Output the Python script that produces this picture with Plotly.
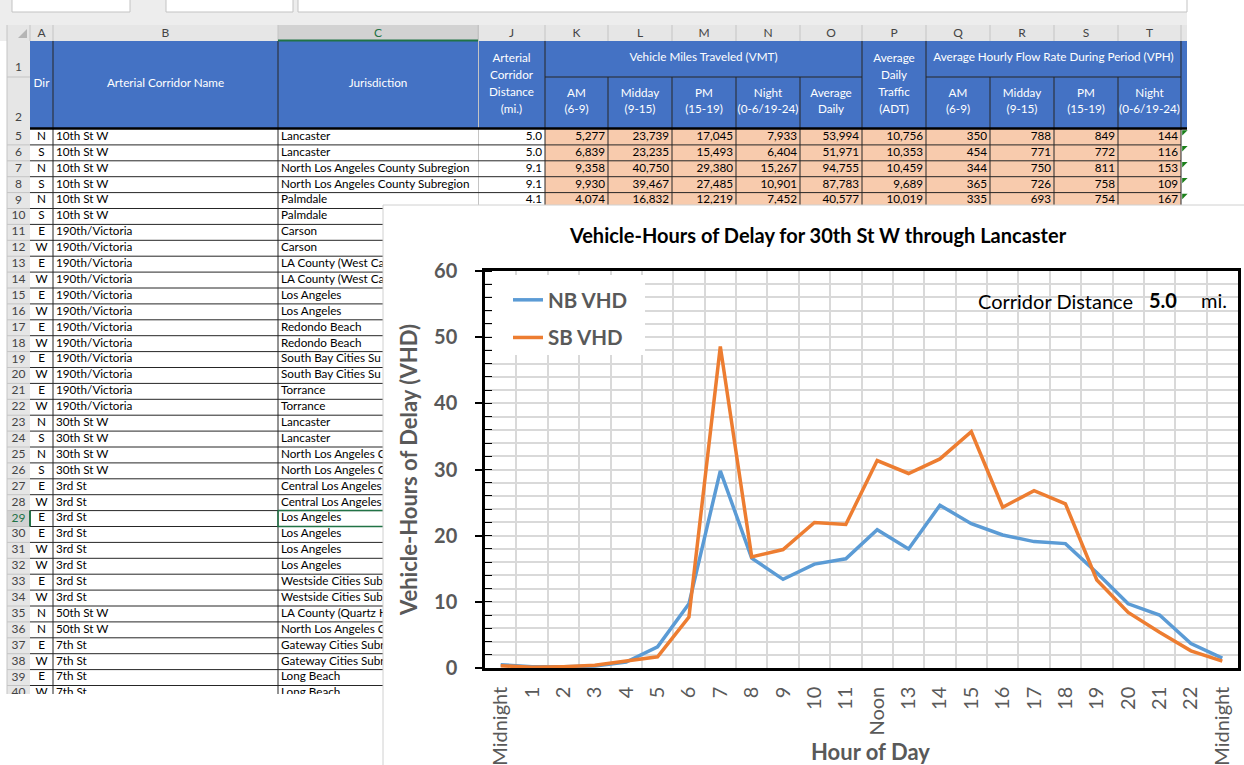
import plotly.graph_objects as go

W, H = 1244, 765
FONT = "Lato"

# ---------------- chart data ----------------
chart_title = "Vehicle-Hours of Delay for 30th St W through Lancaster"
hour_labels = ["Midnight", "1", "2", "3", "4", "5", "6", "7", "8", "9", "10", "11",
               "Noon", "13", "14", "15", "16", "17", "18", "19", "20", "21", "22", "Midnight"]
nb_vhd = [0.5, 0.2, 0.2, 0.3, 0.9, 3.2, 9.7, 29.8, 16.6, 13.4, 15.7, 16.5,
          20.9, 18.0, 24.6, 21.8, 20.1, 19.1, 18.8, 14.4, 9.7, 8.0, 3.7, 1.5]
sb_vhd = [0.35, 0.1, 0.2, 0.4, 1.05, 1.7, 7.7, 48.6, 16.8, 17.9, 22.0, 21.7,
          31.35, 29.4, 31.6, 35.7, 24.3, 26.8, 24.8, 13.3, 8.4, 5.4, 2.6, 1.05]
corridor_distance_mi = 5.0

# ---------------- spreadsheet data ----------------
col_letters = ["A", "B", "C", "J", "K", "L", "M", "N", "O", "P", "Q", "R", "S", "T"]
row_numbers = list(range(5, 41))
dirs = ["N", "S", "N", "S", "N", "S", "E", "W", "E", "W", "E", "W", "E", "W", "E", "W", "E", "W",
        "N", "S", "N", "S", "E", "W", "E", "E", "W", "W", "E", "W", "N", "N", "E", "W", "E", "W"]
corridor_names = (["10th St W"] * 6 + ["190th/Victoria"] * 12 + ["30th St W"] * 4 +
                  ["3rd St"] * 8 + ["50th St W"] * 2 + ["7th St"] * 4)
jurisdictions = [
    "Lancaster", "Lancaster",
    "North Los Angeles County Subregion", "North Los Angeles County Subregion",
    "Palmdale", "Palmdale", "Carson", "Carson",
    "LA County (West Carson)", "LA County (West Carson)",
    "Los Angeles", "Los Angeles", "Redondo Beach", "Redondo Beach",
    "South Bay Cities Subregion", "South Bay Cities Subregion", "Torrance", "Torrance",
    "Lancaster", "Lancaster",
    "North Los Angeles County Subregion", "North Los Angeles County Subregion",
    "Central Los Angeles Subregion", "Central Los Angeles Subregion",
    "Los Angeles", "Los Angeles", "Los Angeles", "Los Angeles",
    "Westside Cities Subregion", "Westside Cities Subregion",
    "LA County (Quartz Hill)", "North Los Angeles County Subregion",
    "Gateway Cities Subregion", "Gateway Cities Subregion", "Long Beach", "Long Beach"]
distance_mi = [5.0, 5.0, 9.1, 9.1, 4.1]
vmt_am = [5277, 6839, 9358, 9930, 4074]
vmt_midday = [23739, 23235, 40750, 39467, 16832]
vmt_pm = [17045, 15493, 29380, 27485, 12219]
vmt_night = [7933, 6404, 15267, 10901, 7452]
vmt_daily = [53994, 51971, 94755, 87783, 40577]
adt = [10756, 10353, 10459, 9689, 10019]
vph_am = [350, 454, 344, 365, 335]
vph_midday = [788, 771, 750, 726, 693]
vph_pm = [849, 772, 811, 758, 754]
vph_night = [144, 116, 153, 109, 167]

hdr_single = ["Dir", "Arterial Corridor Name", "Jurisdiction"]
hdr_J = ["Arterial", "Corridor", "Distance", "(mi.)"]
hdr_P = ["Average", "Daily", "Traffic", "(ADT)"]
vmt_group = "Vehicle Miles Traveled (VMT)"
vph_group = "Average Hourly Flow Rate During Period (VPH)"
vmt_sub = [["AM", "(6-9)"], ["Midday", "(9-15)"], ["PM", "(15-19)"],
           ["Night", "(0-6/19-24)"], ["Average", "Daily"]]
vph_sub = [["AM", "(6-9)"], ["Midday", "(9-15)"], ["PM", "(15-19)"], ["Night", "(0-6/19-24)"]]

# ---------------- sheet geometry (style) ----------------
col_edges = [30, 53, 278, 478, 545, 608, 672, 736, 800, 862, 926, 990, 1054, 1118, 1181]
SHEET_R = 1187
HDR_TOP, HDR_MID, HDR_BOT = 41, 77, 128
DATA_TOP, ROW_H = 129, 15.9
SHEET_B = 694
PANEL_X, PANEL_Y = 383, 205
GREEN = "#217346"
CELL_FS = 11.7


def row_top(i):
    return DATA_TOP + i * ROW_H


def row_mid(i):
    return DATA_TOP + (i + 0.5) * ROW_H


def col_mid(j):
    return (col_edges[j] + col_edges[j + 1]) / 2


shapes = []


def rect(x0, y0, x1, y1, fill, line=None, lw=0):
    shapes.append(dict(type="rect", xref="x", yref="y", x0=x0, y0=y0, x1=x1, y1=y1,
                       fillcolor=fill, line=dict(width=lw, color=line or fill), layer="below"))


rect(0, 0, SHEET_R, HDR_TOP, "#ededed")
rect(12, -5, 130, 12, "white", "#c3c3c3", 1)
rect(166, -5, 293, 12, "white", "#c3c3c3", 1)
rect(298, -5, SHEET_R, 12, "white", "#c3c3c3", 1)
rect(7, 25, SHEET_R, HDR_TOP, "#e6e6e6")
rect(278, 25, 478, HDR_TOP, "#d2d2d2")
rect(7, HDR_TOP, 30, SHEET_B, "#e6e6e6")
rect(7, row_top(24), 30, row_top(25), "#d2d2d2")
rect(30, HDR_TOP, SHEET_R, HDR_BOT, "#4472C4")
rect(545, DATA_TOP, 1181, SHEET_B, "#F8CBAD")
shapes.append(dict(type="path", xref="x", yref="y", path="M 27 29 L 27 38 L 18 38 Z",
                   fillcolor="#b5b5b5", line=dict(width=0), layer="below"))


def new_lines():
    return {"x": [], "y": []}


def seg(store, x0, y0, x1, y1):
    store["x"] += [x0, x1, None]
    store["y"] += [y0, y1, None]


gray = new_lines()
black = new_lines()
for x in col_edges:
    seg(gray, x, 25, x, HDR_TOP)
seg(gray, 7, 25, 7, SHEET_B)
seg(gray, 7, HDR_MID, 30, HDR_MID)
for i in range(1, len(row_numbers)):
    seg(gray, 7, row_top(i), 30, row_top(i))
seg(gray, 478.5, 25, 478.5, SHEET_B)

for i in range(1, len(row_numbers)):
    seg(black, 30, row_top(i), 1181, row_top(i))
for x in [53, 278] + col_edges[4:]:
    seg(black, x, HDR_BOT, x, SHEET_B)
for x in [53, 278, 545, 862, 926, 1181]:
    seg(black, x, HDR_TOP, x, HDR_BOT)
for x in [608, 672, 736, 800, 990, 1054, 1118]:
    seg(black, x, HDR_MID, x, HDR_BOT)
seg(black, 545, HDR_MID, 862, HDR_MID)
seg(black, 926, HDR_MID, 1181, HDR_MID)

texts = {}


def put(x, y, s, pos="middle center", color="#000000", size=CELL_FS, bold=False):
    key = (pos, color, size, bold)
    d = texts.setdefault(key, ([], [], []))
    d[0].append(x)
    d[1].append(y)
    d[2].append(s)


# column letters
for j, c in enumerate(col_letters):
    put(col_mid(j), 33.5, c, color=GREEN if c == "C" else "#444444", size=12)
put(18.5, 68, "1", color="#444444", size=12)
put(18.5, 118, "2", color="#444444", size=12)
WHITE = "#ffffff"
for j, s in enumerate(hdr_single):
    put(col_mid(j), 84.5, s, color=WHITE)
for k, s in enumerate(hdr_J):
    put(col_mid(3), 59 + 17 * k, s, color=WHITE)
for k, s in enumerate(hdr_P):
    put(col_mid(9), 59 + 17 * k, s, color=WHITE)
put((545 + 862) / 2, 58.5, vmt_group, color=WHITE)
put((926 + 1181) / 2, 58.5, vph_group, color=WHITE)
for j, lines in enumerate(vmt_sub):
    for k, s in enumerate(lines):
        put(col_mid(4 + j), 94 + 16.5 * k, s, color=WHITE)
for j, lines in enumerate(vph_sub):
    for k, s in enumerate(lines):
        put(col_mid(10 + j), 94 + 16.5 * k, s, color=WHITE)

# data rows; text running under the chart panel is shortened (the panel hides the rest)
VISIBLE_CHARS = 19
for i, rn in enumerate(row_numbers):
    y = row_mid(i)
    put(18.5, y, str(rn), color=GREEN if rn == 29 else "#444444", size=12)
    put(col_mid(0), y, dirs[i])
    put(56, y, corridor_names[i], pos="middle right")
    jur = jurisdictions[i]
    if row_top(i + 1) > PANEL_Y and len(jur) > VISIBLE_CHARS:
        jur = jur[:VISIBLE_CHARS]
    put(281, y, jur, pos="middle right")

numeric_cols = [vmt_am, vmt_midday, vmt_pm, vmt_night, vmt_daily, adt,
                vph_am, vph_midday, vph_pm, vph_night]
for i in range(len(distance_mi)):
    y = row_mid(i)
    put(col_edges[4] - 3, y, f"{distance_mi[i]:.1f}", pos="middle left")
    for j, arr in enumerate(numeric_cols):
        put(col_edges[5 + j] - 3, y, f"{arr[i]:,}", pos="middle left")

fig = go.Figure()
fig.add_trace(go.Scatter(x=gray["x"], y=gray["y"], mode="lines",
                         line=dict(color="#c4c4c4", width=1), hoverinfo="skip", showlegend=False))
fig.add_trace(go.Scatter(x=black["x"], y=black["y"], mode="lines",
                         line=dict(color="#262626", width=1), hoverinfo="skip", showlegend=False))
fig.add_trace(go.Scatter(x=[30, SHEET_R], y=[HDR_BOT + 0.5, HDR_BOT + 0.5], mode="lines",
                         line=dict(color="#000000", width=2.5), hoverinfo="skip", showlegend=False))
fig.add_trace(go.Scatter(x=[278, 478, None, 30, 30],
                         y=[40.5, 40.5, None, row_top(24), row_top(25)], mode="lines",
                         line=dict(color=GREEN, width=2), hoverinfo="skip", showlegend=False))
fig.add_trace(go.Scatter(x=[278, 478, 478, 278, 278],
                         y=[row_top(24), row_top(24), row_top(25), row_top(25), row_top(24)],
                         mode="lines", line=dict(color=GREEN, width=1.5),
                         hoverinfo="skip", showlegend=False))
for (pos, color, size, bold), (xs, ys, ss) in texts.items():
    fig.add_trace(go.Scatter(x=xs, y=ys, text=ss, mode="text", textposition=pos,
                             textfont=dict(family=FONT, size=size, color=color,
                                           weight="bold" if bold else "normal"),
                             hoverinfo="skip", showlegend=False))
fig.add_trace(go.Scatter(x=[1184] * len(distance_mi),
                         y=[row_top(i) + 3 for i in range(len(distance_mi))],
                         mode="markers", marker=dict(symbol="triangle-nw", size=6, color="#1a7f1a"),
                         hoverinfo="skip", showlegend=False))
# blank page below the visible sheet rows
fig.add_trace(go.Scatter(x=[-2, PANEL_X, PANEL_X, -2, -2], y=[SHEET_B, SHEET_B, H + 2, H + 2, SHEET_B],
                         mode="lines", fill="toself", fillcolor="white", line=dict(width=0),
                         hoverinfo="skip", showlegend=False))
# chart panel sitting over the sheet
fig.add_trace(go.Scatter(x=[PANEL_X, W + 2, W + 2, PANEL_X, PANEL_X],
                         y=[PANEL_Y, PANEL_Y, H + 2, H + 2, PANEL_Y],
                         mode="lines", fill="toself", fillcolor="white",
                         line=dict(color="#d0d0d0", width=1), hoverinfo="skip", showlegend=False))

# ---------------- chart traces ----------------
hours = list(range(len(hour_labels)))
fig.add_trace(go.Scatter(x=hours, y=nb_vhd, name="NB VHD", mode="lines", legendgroup="nb",
                         line=dict(color="#5B9BD5", width=3.5), xaxis="x2", yaxis="y2"))
fig.add_trace(go.Scatter(x=hours, y=sb_vhd, name="SB VHD", mode="lines", legendgroup="sb",
                         line=dict(color="#ED7D31", width=3.5), xaxis="x2", yaxis="y2"))

GRID = "#d9d9d9"
AX = "#595959"


def px(x):
    return x / W


def py(y):
    return 1 - y / H


shapes.append(dict(type="rect", xref="paper", yref="paper", x0=px(492), x1=px(645),
                   y0=py(355), y1=py(275), fillcolor="white", line=dict(width=0), layer="above"))

fig.update_layout(
    width=W, height=H,
    margin=dict(l=0, r=0, t=0, b=0, pad=0, autoexpand=False),
    paper_bgcolor="white", plot_bgcolor="white",
    hovermode=False,
    shapes=shapes,
    title=dict(text=chart_title, x=px(818), xanchor="center", y=py(236), yanchor="middle",
               font=dict(family=FONT, size=20, color="#000000", weight="bold")),
    xaxis=dict(domain=[0, 1], range=[0, W], visible=False, fixedrange=True),
    yaxis=dict(domain=[0, 1], range=[H, 0], visible=False, fixedrange=True),
    xaxis2=dict(domain=[px(485), px(1238)], anchor="y2", range=[-0.5, 23.5],
                tickmode="array", tickvals=hours, ticktext=hour_labels, tickangle=-90,
                tickfont=dict(family=FONT, size=20, color=AX), ticks="", showgrid=False,
                zeroline=False, showline=True, linecolor="#000000", linewidth=2.5, mirror=True,
                ticklabelstandoff=8,
                minor=dict(tickmode="array", tickvals=[h + 0.5 for h in hours[:-1]],
                           showgrid=True, gridcolor=GRID, gridwidth=1.5, ticks="")),
    yaxis2=dict(domain=[py(668), py(271)], anchor="x2", range=[0, 60], tick0=0, dtick=10,
                ticks="outside", ticklen=7, tickwidth=1.5, tickcolor="#000000",
                tickfont=dict(family=FONT, size=20, color=AX, weight="bold"),
                showgrid=True, gridcolor=GRID, gridwidth=1.5, zeroline=False,
                showline=True, linecolor="#000000", linewidth=2.5, mirror=True,
                ticklabelstandoff=14,
                minor=dict(dtick=2, ticks="inside", ticklen=7, tickwidth=1.2, tickcolor="#000000",
                           showgrid=True, gridcolor=GRID, gridwidth=1.5),
                title=dict(text="Vehicle-Hours of Delay (VHD)", standoff=11,
                           font=dict(family=FONT, size=22, color=AX, weight="bold"))),
    legend=dict(x=px(508), y=py(280), xanchor="left", yanchor="top", bgcolor="rgba(0,0,0,0)",
                font=dict(family=FONT, size=20.5, color=AX, weight="bold"),
                tracegroupgap=8, traceorder="grouped"),
    annotations=[
        dict(text="Hour of Day", xref="paper", yref="paper", x=px(870), y=py(751),
             xanchor="center", yanchor="middle", showarrow=False,
             font=dict(family=FONT, size=22, color=AX, weight="bold")),
        dict(text="Corridor Distance", xref="paper", yref="paper", x=px(1135), y=py(301),
             xanchor="right", yanchor="middle", showarrow=False,
             font=dict(family=FONT, size=20, color="#000000")),
        dict(text=f"{corridor_distance_mi:.1f}", xref="paper", yref="paper", x=px(1162.5),
             y=py(300), xanchor="center", yanchor="middle", showarrow=False,
             font=dict(family=FONT, size=20, color="#000000", weight="bold")),
        dict(text="mi.", xref="paper", yref="paper", x=px(1199), y=py(300),
             xanchor="left", yanchor="middle", showarrow=False,
             font=dict(family=FONT, size=20, color="#000000")),
    ],
)

fig.write_html("out.html", config={"displayModeBar": False},
               post_script="document.body.style.margin='0px';")
